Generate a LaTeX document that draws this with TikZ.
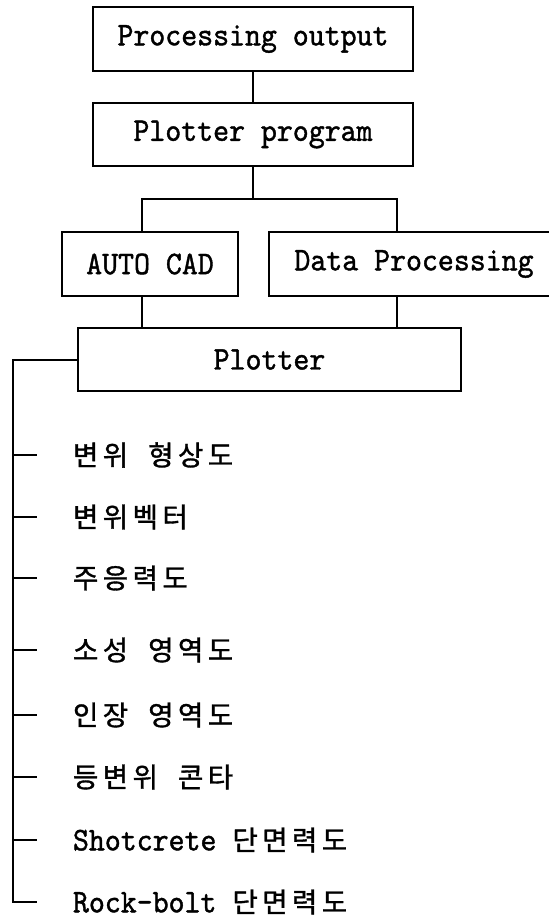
\documentclass[tikz,border=0pt]{standalone}
\usepackage{fontspec}
\usepackage{tikz}
\setmonofont{lmmono10-regular.otf}[FakeStretch=0.92, FakeBold=1.2]
\newfontfamily\krfont{Noto Sans CJK KR}[LetterSpace=16, FakeBold=1.2]
\newcommand\hangul[1]{{\krfont\fontsize{13.8}{16}\selectfont #1}}
\newcommand\kgap{\hspace{10pt}}
\tikzset{
  blk/.style={draw, inner sep=0pt, minimum height=32pt,
    font=\ttfamily\fontsize{16.5}{18}\selectfont},
  itm/.style={anchor=west, inner sep=0pt,
    font=\ttfamily\fontsize{16.5}{18}\selectfont},
}
\begin{document}
\begin{tikzpicture}[x=0.5pt, y=-0.5pt, line width=1pt]
  \useasboundingbox (0,0) rectangle (548,917);
  % 상단 블록
  \node[blk, minimum width=160pt] (out) at (253,39) {Processing output};
  \node[blk, minimum width=160pt, minimum height=31.5pt] (prog) at (253,134.5) {Plotter program};
  \node[blk, minimum width=88pt] (cad) at (150,264) {AUTO CAD};
  \node[blk, minimum width=145pt] (data) at (414,264) {Data Processing};
  \node[blk, minimum width=191.5pt, minimum height=31.5pt] (plt) at (269.5,359.5) {Plotter};
  % 블록 사이 연결선
  \coordinate (jl) at (142,199);
  \coordinate (jr) at (397,199);
  \draw (out) -- (prog);
  \draw (prog) -- (prog.south |- jl);
  \draw (jl |- cad.north) -- (jl) -- (jr) -- (jr |- data.north);
  \draw (jl |- cad.south) -- (jl |- plt.north);
  \draw (jr |- data.south) -- (jr |- plt.north);
  % 출력 목록
  \coordinate (bar) at (13,903);
  \foreach \n/\y/\txt in {1/455/\hangul{변위\kgap 형상도},
      2/517/\hangul{변위벡터}, 3/578/\hangul{주응력도},
      4/650/\hangul{소성\kgap 영역도}, 5/715/\hangul{인장\kgap 영역도},
      6/777/\hangul{등변위\kgap 콘타}, 7/840/Shotcrete \hangul{단면력도},
      8/902/Rock-bolt \hangul{단면력도}} {
    \node[itm] (i\n) at (72,\y) {\txt};
    \draw (i\n.west -| bar) -- ++(24,0);
  }
  \draw (plt.west) -| (bar);
\end{tikzpicture}
\end{document}
